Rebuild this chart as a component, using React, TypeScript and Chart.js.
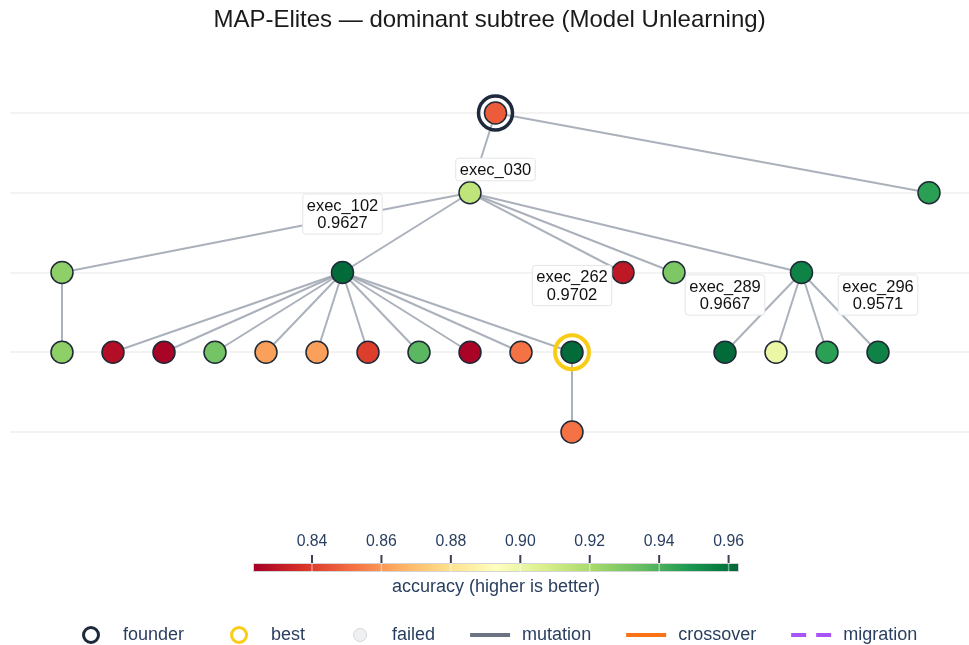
import { useEffect, useRef } from "react";
import { Chart, registerables } from "chart.js";

Chart.register(...registerables);

// ---------------- data ----------------
const TITLE = "MAP-Elites — dominant subtree (Model Unlearning)";

// horizontal slot of each node in the tree layout
const nodeSlot = [8.5, 8, 17, 0, 5.5, 11, 12, 14.5, 0, 1, 2, 3, 4, 5, 6, 7, 8, 9, 10, 13, 14, 15, 16, 10];
// generation depth of each node
const nodeDepth = [0, 1, 1, 2, 2, 2, 2, 2, 3, 3, 3, 3, 3, 3, 3, 3, 3, 3, 3, 3, 3, 3, 3, 4];
// accuracy of each node
const nodeAccuracy = [
  0.847, 0.914, 0.946, 0.926, 0.962, 0.83, 0.93, 0.955, 0.926, 0.827, 0.824, 0.932, 0.862, 0.862,
  0.84, 0.937, 0.824, 0.852, 0.962, 0.962, 0.9, 0.946, 0.955, 0.852,
];
// parent index (-1 = founder)
const nodeParent = [-1, 0, 0, 1, 1, 1, 1, 1, 3, 4, 4, 4, 4, 4, 4, 4, 4, 4, 4, 7, 7, 7, 7, 18];
const founderNodes = [0];
const bestNodes = [18];

const labelLines = [["exec_030"], ["exec_102", "0.9627"], ["exec_262", "0.9702"], ["exec_289", "0.9667"], ["exec_296", "0.9571"]];
const labelSlot = [8.5, 5.5, 10, 13, 16];
const labelDepth = [0.708, 1.266, 2.163, 2.282, 2.282];

const depthTicks = [0, 1, 2, 3, 4];

const colorbarTicks = [0.84, 0.86, 0.88, 0.9, 0.92, 0.94, 0.96];
const colorbarTitle = "accuracy (higher is better)";
const accMin = 0.823;
const accMax = 0.963;

const scaleStops = [0, 0.1, 0.2, 0.3, 0.4, 0.5, 0.6, 0.7, 0.8, 0.9, 1];
const scaleColors = [
  [165, 0, 38], [215, 48, 39], [244, 109, 67], [253, 174, 97], [254, 224, 139], [255, 255, 191],
  [217, 239, 139], [166, 217, 106], [102, 189, 99], [26, 152, 80], [0, 104, 55],
];

const legendNames = ["founder", "best", "failed", "mutation", "crossover", "migration"];

// ---------------- helpers ----------------
const FONT = "'Liberation Sans', Arial, sans-serif";

function accColor(v: number): string {
  let t = (v - accMin) / (accMax - accMin);
  t = Math.max(0, Math.min(1, t));
  for (let i = 0; i < scaleStops.length - 1; i++) {
    const a = scaleStops[i], b = scaleStops[i + 1];
    if (t <= b) {
      const f = (t - a) / (b - a);
      const c0 = scaleColors[i], c1 = scaleColors[i + 1];
      const c = c0.map((x, k) => Math.round(x + (c1[k] - x) * f));
      return `rgb(${c[0]},${c[1]},${c[2]})`;
    }
  }
  const c = scaleColors[scaleColors.length - 1];
  return `rgb(${c[0]},${c[1]},${c[2]})`;
}

const overlayPlugin = {
  id: "overlay",
  afterDatasetsDraw(chart: any) {
    const ctx = chart.ctx as CanvasRenderingContext2D;
    const xs = chart.scales.x;
    const ys = chart.scales.y;
    ctx.save();
    // node labels
    ctx.font = `16.5px ${FONT}`;
    ctx.textAlign = "center";
    ctx.textBaseline = "middle";
    const lh = 17.6;
    labelLines.forEach((lines, i) => {
      const cx = xs.getPixelForValue(labelSlot[i]);
      const cy = ys.getPixelForValue(labelDepth[i]);
      const w = Math.max(...lines.map((l) => ctx.measureText(l).width)) + 8;
      const h = lines.length * lh + 5;
      const x0 = cx - w / 2, y0 = cy - h / 2;
      ctx.beginPath();
      (ctx as any).roundRect(x0, y0, w, h, 3);
      ctx.fillStyle = "#ffffff";
      ctx.fill();
      ctx.lineWidth = 1;
      ctx.strokeStyle = "#e3e5e9";
      ctx.stroke();
      ctx.fillStyle = "#111111";
      lines.forEach((l, k) => {
        ctx.fillText(l, cx, cy + (k - (lines.length - 1) / 2) * lh + 1);
      });
    });
    ctx.restore();
  },
  afterDraw(chart: any) {
    const ctx = chart.ctx as CanvasRenderingContext2D;
    ctx.save();
    // colorbar
    const bx0 = 253, bx1 = 739, by = 563, bh = 9;
    const grad = ctx.createLinearGradient(bx0, 0, bx1, 0);
    scaleStops.forEach((s, i) => {
      const c = scaleColors[i];
      grad.addColorStop(s, `rgb(${c[0]},${c[1]},${c[2]})`);
    });
    ctx.fillStyle = grad;
    ctx.fillRect(bx0, by, bx1 - bx0, bh);
    ctx.lineWidth = 1;
    ctx.strokeStyle = "#d4d4d4";
    ctx.strokeRect(bx0 + 0.5, by + 0.5, bx1 - bx0 - 1, bh - 1);
    ctx.font = `15.8px ${FONT}`;
    ctx.textAlign = "center";
    ctx.textBaseline = "middle";
    colorbarTicks.forEach((v) => {
      const px = bx0 + ((v - accMin) / (accMax - accMin)) * (bx1 - bx0);
      ctx.strokeStyle = "#3b4252";
      ctx.lineWidth = 2;
      ctx.beginPath();
      ctx.moveTo(px, by - 8);
      ctx.lineTo(px, by);
      ctx.stroke();
      ctx.strokeStyle = "rgba(255,255,255,0.45)";
      ctx.lineWidth = 1.5;
      ctx.beginPath();
      ctx.moveTo(px, by);
      ctx.lineTo(px, by + bh);
      ctx.stroke();
      ctx.fillStyle = "#2a3f5f";
      ctx.fillText(v.toFixed(2), px, 542);
    });
    ctx.font = `18px ${FONT}`;
    ctx.fillStyle = "#2a3f5f";
    ctx.fillText(colorbarTitle, (bx0 + bx1) / 2, 587);

    // legend
    const ly = 635;
    let cx = 91;
    ctx.font = `18px ${FONT}`;
    ctx.textAlign = "left";
    legendNames.forEach((name, i) => {
      ctx.setLineDash([]);
      if (i === 0 || i === 1) {
        ctx.beginPath();
        ctx.arc(cx, ly, 7.5, 0, Math.PI * 2);
        ctx.lineWidth = 3;
        ctx.strokeStyle = i === 0 ? "#1e293b" : "#facc15";
        ctx.stroke();
      } else if (i === 2) {
        ctx.beginPath();
        ctx.arc(cx, ly, 6.5, 0, Math.PI * 2);
        ctx.fillStyle = "#eff0f2";
        ctx.fill();
        ctx.lineWidth = 1;
        ctx.strokeStyle = "#d2d5da";
        ctx.stroke();
      } else {
        const col = i === 3 ? "#6b7280" : i === 4 ? "#f97316" : "#a855f7";
        if (i === 5) ctx.setLineDash([15, 10]);
        ctx.beginPath();
        ctx.moveTo(cx - 20, ly);
        ctx.lineTo(cx + 20, ly);
        ctx.lineWidth = 4;
        ctx.strokeStyle = col;
        ctx.stroke();
        ctx.setLineDash([]);
      }
      ctx.fillStyle = "#2a3f5f";
      const tx = cx + 32;
      ctx.fillText(name, tx, ly);
      const tw = ctx.measureText(name).width;
      cx = tx + tw + 55;
    });
    ctx.restore();
  },
};

export default function App() {
  const ref = useRef<HTMLCanvasElement | null>(null);
  useEffect(() => {
    if (!ref.current) return;
    const edgeDatasets: any[] = [];
    nodeParent.forEach((p, i) => {
      if (p < 0) return;
      edgeDatasets.push({
        type: "scatter",
        data: [
          { x: nodeSlot[p], y: nodeDepth[p] },
          { x: nodeSlot[i], y: nodeDepth[i] },
        ],
        showLine: true,
        borderColor: "rgba(156,163,175,0.85)",
        borderWidth: 2,
        pointRadius: 0,
        order: 4,
        clip: false,
      });
    });
    const chart = new Chart(ref.current, {
      type: "scatter",
      data: {
        datasets: [
          ...edgeDatasets,
          {
            data: founderNodes.map((i) => ({ x: nodeSlot[i], y: nodeDepth[i] })),
            pointRadius: 17,
            pointBackgroundColor: "rgba(0,0,0,0)",
            pointBorderColor: "#1e293b",
            pointBorderWidth: 3.5,
            order: 2,
            clip: false,
          },
          {
            data: bestNodes.map((i) => ({ x: nodeSlot[i], y: nodeDepth[i] })),
            pointRadius: 17,
            pointBackgroundColor: "rgba(0,0,0,0)",
            pointBorderColor: "#facc15",
            pointBorderWidth: 4,
            order: 2,
            clip: false,
          },
          {
            data: nodeSlot.map((x, i) => ({ x, y: nodeDepth[i] })),
            pointRadius: 11,
            pointBackgroundColor: nodeAccuracy.map(accColor),
            pointBorderColor: "#1f2937",
            pointBorderWidth: 1.5,
            order: 1,
            clip: false,
          },
        ],
      },
      options: {
        animation: false,
        responsive: false,
        devicePixelRatio: 1,
        events: [],
        layout: { autoPadding: false, padding: { left: 10, right: 0, top: 0, bottom: 135 } },
        plugins: {
          legend: { display: false },
          tooltip: { enabled: false },
          title: {
            display: true,
            text: TITLE,
            color: "#1a1a1a",
            font: { family: FONT, size: 24, weight: "normal" },
            padding: { top: 6, bottom: 7 },
          },
        },
        scales: {
          x: { type: "linear", display: false, min: -1.0196, max: 17.7843 },
          y: {
            type: "linear",
            reverse: true,
            min: -0.893,
            max: 4.978,
            afterBuildTicks: (axis: any) => {
              axis.ticks = depthTicks.map((v) => ({ value: v }));
            },
            ticks: { display: false },
            grid: { color: "#f3f3f3", lineWidth: 2, drawTicks: false },
            border: { display: false },
          },
        },
      } as any,
      plugins: [overlayPlugin],
    });
    return () => chart.destroy();
  }, []);
  return (
    <div style={{ position: "absolute", left: 0, top: 0, width: 969, height: 645, background: "#fff" }}>
      <canvas ref={ref} width={969} height={645} style={{ display: "block" }} />
    </div>
  );
}
